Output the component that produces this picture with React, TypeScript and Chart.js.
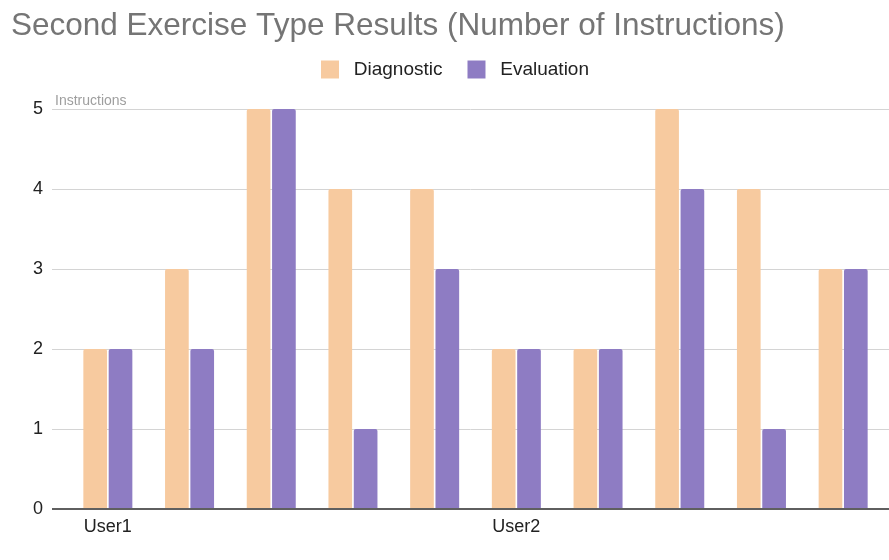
import React, { useEffect, useRef } from 'react';
import { Chart, registerables } from 'chart.js';

Chart.register(...registerables);

const categories = ['User1', '', '', '', '', 'User2', '', '', '', ''];
const diagnostic = [2, 3, 5, 4, 4, 2, 2, 5, 4, 3];
const evaluation = [2, 2, 5, 1, 3, 2, 2, 4, 1, 3];
const yTicks = [0, 1, 2, 3, 4, 5];
const seriesNames = ['Diagnostic', 'Evaluation'];
const titleText = 'Second Exercise Type Results (Number of Instructions)';
const yAxisLabel = 'Instructions';

const FONT = '"Liberation Sans", Arial, sans-serif';

export default function App() {
  const ref = useRef<HTMLCanvasElement>(null);

  useEffect(() => {
    if (!ref.current) return;
    const gridPlugin = {
      id: 'gsGrid',
      beforeDatasetsDraw(chart: any) {
        const { ctx, chartArea, scales } = chart;
        const y = scales.y;
        ctx.save();
        ctx.strokeStyle = '#d4d4d4';
        ctx.lineWidth = 1;
        yTicks.forEach((v) => {
          if (v === 0) return;
          const py = Math.round(y.getPixelForValue(v)) + 0.5;
          ctx.beginPath();
          ctx.moveTo(chartArea.left - 15, py);
          ctx.lineTo(chart.width, py);
          ctx.stroke();
        });
        ctx.restore();
      },
      afterDatasetsDraw(chart: any) {
        const { ctx, chartArea, scales } = chart;
        const y = scales.y;
        ctx.save();
        ctx.strokeStyle = '#5f5f5f';
        ctx.lineWidth = 2;
        const py = Math.round(y.getPixelForValue(0));
        ctx.beginPath();
        ctx.moveTo(chartArea.left - 15, py);
        ctx.lineTo(chart.width, py);
        ctx.stroke();
        ctx.fillStyle = '#9e9e9e';
        ctx.font = '14px ' + FONT;
        ctx.textAlign = 'left';
        ctx.textBaseline = 'alphabetic';
        ctx.fillText(yAxisLabel, chartArea.left - 12, chartArea.top - 4);
        // chart title
        ctx.fillStyle = '#757575';
        ctx.font = '31.5px ' + FONT;
        ctx.fillText(titleText, 11, 35);
        ctx.restore();
      },
    };

    const chart = new Chart(ref.current, {
      type: 'bar',
      data: {
        labels: categories,
        datasets: [
          {
            label: seriesNames[0],
            data: diagnostic,
            backgroundColor: '#F7CA9F',
            borderRadius: { topLeft: 2, topRight: 2 },
            borderSkipped: 'bottom',
            categoryPercentage: 0.62,
            barPercentage: 0.935,
          },
          {
            label: seriesNames[1],
            data: evaluation,
            backgroundColor: '#8E7CC3',
            borderRadius: { topLeft: 2, topRight: 2 },
            borderSkipped: 'bottom',
            categoryPercentage: 0.62,
            barPercentage: 0.935,
          },
        ],
      },
      options: {
        animation: false,
        responsive: true,
        maintainAspectRatio: false,
        font: { family: FONT },
        layout: { padding: { left: 26, right: 5, top: 0, bottom: 0 } },
        plugins: {
          title: {
            display: true,
            text: '',
            font: { family: FONT, size: 35, lineHeight: 1 },
            padding: 0,
          },
          legend: {
            display: true,
            position: 'top',
            labels: {
              boxWidth: 18,
              boxHeight: 18,
              padding: 25,
              color: '#222222',
              font: { family: FONT, size: 19 },
              generateLabels(chart: any) {
                const items = Chart.defaults.plugins.legend.labels.generateLabels(chart);
                return items.map((it: any) => ({ ...it, text: ' ' + it.text, lineWidth: 0 }));
              },
            },
          },
          subtitle: {
            display: true,
            text: '',
            weight: 500,
            font: { size: 20, lineHeight: 1 },
            padding: 0,
          } as any,
          tooltip: { enabled: false },
        },
        scales: {
          x: {
            grid: { display: false, drawTicks: false },
            border: { display: false },
            ticks: {
              autoSkip: false,
              maxRotation: 0,
              padding: 7,
              color: '#222222',
              font: { family: FONT, size: 18 },
            },
            afterFit(scale: any) {
              scale.height = 51;
            },
          },
          y: {
            min: 0,
            max: 5,
            grid: { display: false, drawTicks: false },
            border: { display: false },
            ticks: {
              stepSize: 1,
              padding: 24,
              color: '#222222',
              font: { family: FONT, size: 18 },
            },
            afterFit(scale: any) {
              scale.width = 41;
            },
          },
        },
      } as any,
      plugins: [gridPlugin],
    });
    return () => chart.destroy();
  }, []);

  return (
    <div style={{ position: 'fixed', left: 0, top: 0, width: 889, height: 560, background: '#fff' }}>
      <canvas ref={ref} />
    </div>
  );
}
